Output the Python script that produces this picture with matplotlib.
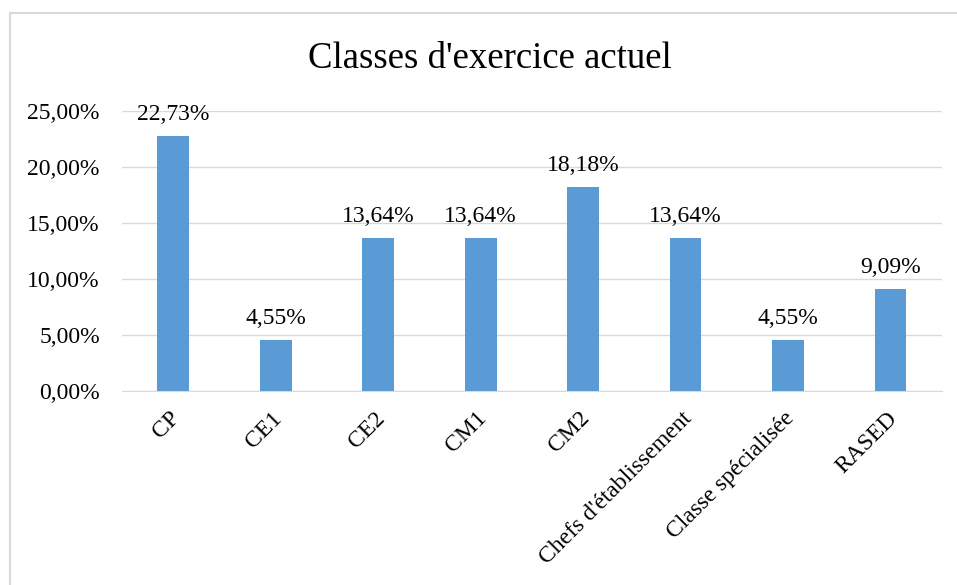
import matplotlib.pyplot as plt
from matplotlib.patches import Rectangle
from matplotlib.ticker import FuncFormatter

categories = ["CP", "CE1", "CE2", "CM1", "CM2", "Chefs d'établissement",
              "Classe spécialisée", "RASED"]
values = [22.73, 4.55, 13.64, 13.64, 18.18, 13.64, 4.55, 9.09]

plt.rcParams['font.family'] = ['Liberation Serif', 'DejaVu Serif']

fig = plt.figure(figsize=(9.57, 5.85), dpi=100)
ax = fig.add_axes([0.1275, 0.3316, 0.8565, 0.4787])

# light frame around the chart area, cut off at right and bottom
fig.patches.append(Rectangle((0.0105, -0.1), 1.2, 1.078, transform=fig.transFigure,
                             fill=False, edgecolor='#D9D9D9', linewidth=1.5))

x = range(len(categories))
bars = ax.bar(x, values, width=0.31, color='#5B9BD5', zorder=3)
for b, v in zip(bars, values):
    ax.annotate(f"{v:.2f}%".replace('.', ','), (b.get_x() + b.get_width() / 2, v),
                xytext=(0, 8), textcoords='offset points',
                ha='center', va='bottom', fontsize=17)

ax.set_xlim(-0.5, len(categories) - 0.5)
ax.set_ylim(0, 25)
ax.set_yticks([0, 5, 10, 15, 20, 25])
ax.yaxis.set_major_formatter(FuncFormatter(lambda v, p: f"{v:.2f}%".replace('.', ',')))
ax.grid(axis='y', color='#D9D9D9', linewidth=1, zorder=0)
ax.set_xticks(list(x))
ax.set_xticklabels([])
# rotated category labels, anchored at their upper right end
for i, c in zip(x, categories):
    ax.annotate(c, (i, 0), xytext=(-3, -12), textcoords='offset points',
                rotation=45, ha='right', va='top', rotation_mode='anchor', fontsize=17)
ax.tick_params(axis='both', length=0, labelsize=17)
ax.tick_params(axis='y', pad=16)
for s in ['top', 'right', 'left']:
    ax.spines[s].set_visible(False)
ax.spines['bottom'].set_color('#D9D9D9')

fig.text(0.512, 0.9, "Classes d'exercice actuel", ha='center', va='center', fontsize=26.5)

fig.savefig('out.png', dpi=100)
